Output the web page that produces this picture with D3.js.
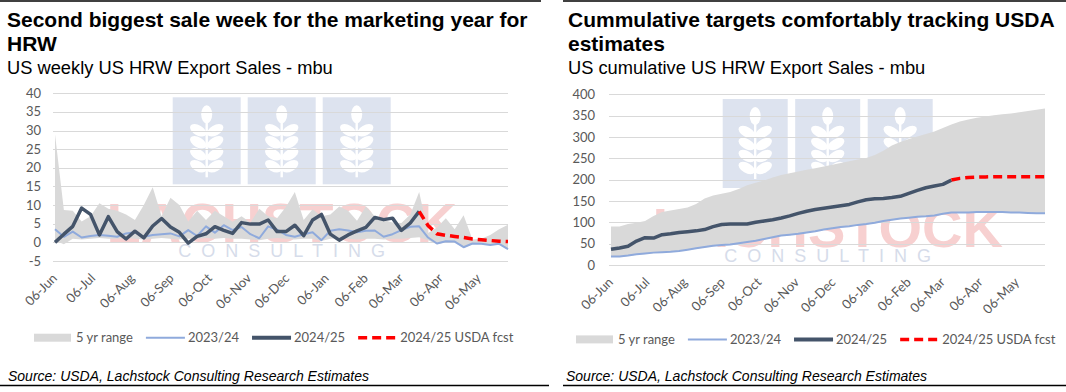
<!DOCTYPE html>
<html>
<head>
<meta charset="utf-8">
<title>HRW export sales</title>
<script src="https://cdn.jsdelivr.net/npm/d3@7"></script>
<style>
  body { margin: 0; background: #fff; }
  svg { display: block; }
  .title { font-family: "Liberation Sans", Arial, sans-serif; font-weight: bold; font-size: 21px; fill: #000; }
  .subtitle { font-family: "Liberation Sans", Arial, sans-serif; font-size: 18.3px; fill: #000; }
  .tick { font-family: Lato, "Open Sans", sans-serif; font-size: 13px; fill: #595959; }
  .legend { font-family: Lato, "Open Sans", sans-serif; font-size: 13px; fill: #595959; }
  .source { font-family: "Liberation Sans", Arial, sans-serif; font-style: italic; font-size: 14px; fill: #000; }
</style>
</head>
<body>
<svg id="chart" width="1066" height="392"></svg>
<script>
// one value per week, first week is 06-Jun-2024
const firstWeek = "2024-06-06";
const monthLabels = ["06-Jun", "06-Jul", "06-Aug", "06-Sep", "06-Oct", "06-Nov",
                     "06-Dec", "06-Jan", "06-Feb", "06-Mar", "06-Apr", "06-May"];
const legendLabels = ["5 yr range", "2023/24", "2024/25", "2024/25 USDA fcst"];

// weekly export sales, mbu
const weeklyTicks = [-5, 0, 5, 10, 15, 20, 25, 30, 35, 40];
const weeklyHigh = [29.0, 8.7, 8.5, 5.6, 7.0, 10.5, 9.0, 8.5, 7.5, 6.0,
                    10.0, 14.8, 7.0, 12.0, 10.0, 5.6, 8.5, 6.0, 8.5, 7.0,
                    5.5, 7.0, 5.3, 9.0, 7.0, 6.5, 9.5, 13.5, 6.0, 8.9,
                    7.0, 7.5, 9.6, 8.5, 5.8, 9.6, 7.0, 6.0, 5.3, 5.2,
                    7.5, 13.5, 2.5, 4.0, 6.5, 3.5, 7.3, 0.8, 1.0, 2.0,
                    3.5, 4.7];
const weeklyLow = [0.5, -0.5, 1.0, 0.8, 1.0, 1.2, 1.0, 1.0, 1.2, 1.0,
                   0.8, 1.0, 1.2, 1.0, 0.8, 1.0, 1.0, 1.2, 1.0, 1.2,
                   1.0, 1.0, 0.8, 0.6, 1.0, 1.2, 1.0, 0.8, 1.0, 1.0,
                   0.4, 1.0, 1.2, 1.0, 0.8, 1.0, 1.0, 0.8, 1.0, 1.0,
                   1.2, 1.4, 0.6, -0.5, 0.0, 0.0, -1.5, -0.5, -0.5, -0.8,
                   -0.6, -2.0];
const weekly2324 = [3.5, 1.5, 2.9, 1.3, 1.7, 2.0, 1.8, 1.5, 2.4, 2.7,
                    1.5, 2.0, 2.2, 2.4, 1.6, 3.3, 1.7, 4.3, 2.6, 4.6,
                    3.3, 4.1, 2.2, 1.1, 4.3, 3.4, 2.0, 1.5, 2.2, 2.7,
                    0.6, 3.1, 3.5, 3.2, 2.7, 3.1, 3.2, 1.5, 2.2, 3.3,
                    4.2, 4.3, 1.3, -0.3, 0.3, 0.2, -1.3, -0.3, -0.4, -0.7,
                    -0.4, -1.8];
const weekly2425 = [0.0, 2.2, 4.3, 9.2, 7.5, 2.0, 6.9, 2.9, 0.9, 3.0,
                    1.2, 4.4, 6.4, 4.1, 2.7, -0.2, 1.6, 2.3, 4.2, 3.2,
                    2.4, 5.3, 4.9, 4.9, 6.0, 2.9, 2.9, 4.6, 1.8, 6.0,
                    7.5, 2.2, 0.6, 2.0, 3.1, 4.0, 6.7, 6.1, 6.5, 3.2,
                    5.2, 8.3];
const weeklyFcstStart = 41;
const weeklyFcst = [8.3, 4.5, 2.3, 1.9, 1.6, 1.3, 0.9, 0.7, 0.5, 0.3, 0.2];

// cumulative export sales, mbu
const cumTicks = [0, 50, 100, 150, 200, 250, 300, 350, 400];
const cumHigh = [90, 90, 96, 99, 103, 115, 124, 128, 131, 135,
                 143, 156, 163, 167, 171, 178, 187, 193, 198, 205,
                 211, 215, 219, 223, 227, 231, 235, 239, 243, 247,
                 251, 258, 268, 280, 288, 295, 301, 307, 313, 321,
                 329, 336, 341, 345, 348, 351, 353, 355, 358, 361,
                 364, 367];
const cumLow = [19, 19, 21, 24, 26, 28, 29, 30, 32, 35,
                38, 41, 44, 46, 47, 50, 53, 56, 60, 64,
                68, 70, 72, 75, 78, 82, 85, 88, 90, 93,
                95, 98, 102, 105, 108, 110, 112, 113, 115, 119,
                122, 122, 122, 123, 123, 123, 123, 122, 122, 121,
                120, 120];
const cum2324 = [20, 20, 22, 25, 27, 29, 30, 31, 33, 36,
                 39, 42, 45, 47, 48, 51, 54, 57, 61, 65,
                 69, 71, 73, 76, 79, 83, 86, 89, 91, 94,
                 96, 99, 103, 106, 109, 111, 113, 114, 116, 120,
                 123, 123, 123, 124, 124, 124, 124, 123, 123, 122,
                 121, 121];
const cum2425 = [37, 40, 44, 56, 64, 63, 71, 73, 76, 78,
                 80, 83, 90, 95, 96, 96, 96, 100, 103, 106,
                 110, 115, 121, 126, 130, 133, 136, 139, 142, 148,
                 153, 155, 156, 158, 161, 168, 175, 181, 185, 189,
                 199];
const cumFcstStart = 40;
const cumFcst = [199, 203, 205, 206, 206.5, 207, 207, 207, 207, 207, 207, 207];

const colors = { range: "#d9d9d9", prev: "#8faadc", curr: "#44546a", fcst: "#ff0000", grid: "#d9d9d9" };

const svg = d3.select("#chart");
const startDate = d3.timeParse("%Y-%m-%d")(firstWeek);

function weekDate(i) {
  return d3.timeDay.offset(startDate, 7 * i);
}

// white wheat ear for the watermark tiles
function drawWheat(g, cx, top) {
  let ic = g.append("g").attr("fill", "#fff");
  ic.append("ellipse").attr("cx", cx).attr("cy", top + 17).attr("rx", 5.5).attr("ry", 9);
  [33, 45, 57, 69].forEach(function(dy) {
    [-1, 1].forEach(function(side) {
      let ex = cx + side * 8.5;
      let ey = top + dy;
      ic.append("ellipse")
        .attr("cx", ex).attr("cy", ey)
        .attr("rx", 9).attr("ry", 5)
        .attr("transform", "rotate(" + (-side * 30) + "," + ex + "," + ey + ")");
    });
  });
  ic.append("rect").attr("x", cx - 1.2).attr("y", top + 24).attr("width", 2.4).attr("height", 56);
}

function drawWatermark(g, wm) {
  let total = 3 * wm.w + 2 * wm.gap;
  for (let k = 0; k < 3; k++) {
    let sx = wm.cx - total / 2 + k * (wm.w + wm.gap);
    g.append("rect")
      .attr("x", sx).attr("y", wm.top)
      .attr("width", wm.w).attr("height", wm.h)
      .attr("fill", "#dde3ef");
    drawWheat(g, sx + wm.w / 2, wm.top);
  }
  g.append("text")
    .attr("x", wm.cx).attr("y", wm.redY)
    .attr("text-anchor", "middle")
    .style("font-family", "'Liberation Sans', Arial, sans-serif")
    .style("font-weight", "bold")
    .style("font-size", "56px")
    .attr("fill", "#f7d0d0")
    .text("LACHSTOCK");
  g.append("text")
    .attr("x", wm.cx + 5).attr("y", wm.consY)
    .attr("text-anchor", "middle")
    .style("font-family", "'Liberation Sans', Arial, sans-serif")
    .style("font-size", "18px")
    .style("letter-spacing", "10px")
    .attr("fill", "#d6dcea")
    .text("CONSULTING");
}

function drawLegend(g, x0, y0) {
  let cx = x0;
  legendLabels.forEach(function(label, i) {
    if (i === 0) {
      g.append("rect").attr("x", cx).attr("y", y0 - 4).attr("width", 37).attr("height", 8)
        .attr("fill", colors.range);
    } else {
      let ln = g.append("line").attr("x1", cx).attr("x2", cx + 39).attr("y1", y0).attr("y2", y0);
      if (i === 1) ln.attr("stroke", colors.prev).attr("stroke-width", 2);
      if (i === 2) ln.attr("stroke", colors.curr).attr("stroke-width", 4);
      if (i === 3) ln.attr("stroke", colors.fcst).attr("stroke-width", 3.5).attr("stroke-dasharray", "9,5");
    }
    let t = g.append("text").attr("class", "legend")
      .attr("x", cx + 42).attr("y", y0 + 4.5)
      .text(label);
    cx = cx + 42 + t.node().getComputedTextLength() + 13;
  });
}

function drawPanel(p) {
  let g = svg.append("g");

  let x = d3.scaleTime()
    .domain([weekDate(0), weekDate(p.high.length - 1)])
    .range([p.left, p.right]);
  let y = d3.scaleLinear()
    .domain([p.ticks[0], p.ticks[p.ticks.length - 1]])
    .range([p.bottom, p.top]);

  // titles
  p.titles.forEach(function(t, i) {
    g.append("text").attr("class", "title").attr("x", p.titleX).attr("y", 27 + i * 24).text(t);
  });
  g.append("text").attr("class", "subtitle").attr("x", p.titleX).attr("y", 74).text(p.subtitle);

  drawWatermark(g.append("g"), p.wm);

  // gridlines + y labels
  g.selectAll(".grid").data(p.ticks).enter()
    .append("line")
    .attr("class", "grid")
    .attr("x1", p.gridLeft).attr("x2", p.right)
    .attr("y1", function(d) { return Math.round(y(d)) + 0.5; })
    .attr("y2", function(d) { return Math.round(y(d)) + 0.5; })
    .attr("stroke", colors.grid)
    .attr("stroke-width", 1);

  g.selectAll(".ylab").data(p.ticks).enter()
    .append("text")
    .attr("class", "tick")
    .attr("x", p.labelX)
    .attr("y", function(d) { return y(d); })
    .attr("dy", "0.35em")
    .attr("text-anchor", "end")
    .text(function(d) { return d; });

  // month labels
  g.selectAll(".xlab").data(monthLabels).enter()
    .append("text")
    .attr("class", "tick")
    .attr("text-anchor", "end")
    .attr("transform", function(d, k) {
      let tx = x(d3.timeMonth.offset(startDate, k)) + 3;
      return "translate(" + tx + "," + (p.bottom + 18) + ") rotate(-45)";
    })
    .text(function(d) { return d; });

  // 5 yr range
  let rangeData = p.high.map(function(h, i) { return { date: weekDate(i), hi: h, lo: p.low[i] }; });
  g.append("path")
    .datum(rangeData)
    .attr("fill", colors.range)
    .attr("d", d3.area()
      .x(function(d) { return x(d.date); })
      .y0(function(d) { return y(d.lo); })
      .y1(function(d) { return y(d.hi); }));

  let line = d3.line()
    .x(function(d) { return x(d.date); })
    .y(function(d) { return y(d.v); });

  function series(vals, offset) {
    return vals.map(function(v, i) { return { date: weekDate(i + offset), v: v }; });
  }

  g.append("path").datum(series(p.prev, 0))
    .attr("fill", "none").attr("stroke", colors.prev).attr("stroke-width", 2)
    .attr("stroke-linejoin", "round").attr("d", line);

  g.append("path").datum(series(p.curr, 0))
    .attr("fill", "none").attr("stroke", colors.curr).attr("stroke-width", 3.5)
    .attr("stroke-linejoin", "round").attr("d", line);

  g.append("path").datum(series(p.fcst, p.fcstStart))
    .attr("fill", "none").attr("stroke", colors.fcst).attr("stroke-width", 3.5)
    .attr("stroke-dasharray", "9,5").attr("d", line);

  drawLegend(g, p.legendX, p.legendY);

  g.append("text").attr("class", "source").attr("x", p.sourceX).attr("y", 381)
    .text("Source: USDA, Lachstock Consulting Research Estimates");

  g.append("line").attr("x1", p.ruleTop[0]).attr("x2", p.ruleTop[1]).attr("y1", 1).attr("y2", 1)
    .attr("stroke", "#000").attr("stroke-width", 1.5);
  g.append("line").attr("x1", p.ruleBottom[0]).attr("x2", p.ruleBottom[1]).attr("y1", 385.5).attr("y2", 385.5)
    .attr("stroke", "#000").attr("stroke-width", 1.5);
}

drawPanel({
  titles: ["Second biggest sale week for the marketing year for", "HRW"],
  subtitle: "US weekly US HRW Export Sales - mbu",
  titleX: 7,
  left: 55, right: 508, gridLeft: 53, top: 93.3, bottom: 261, labelX: 41,
  ticks: weeklyTicks,
  high: weeklyHigh, low: weeklyLow, prev: weekly2324, curr: weekly2425,
  fcst: weeklyFcst, fcstStart: weeklyFcstStart,
  wm: { cx: 281.7, top: 97.3, w: 68, h: 87, gap: 7, redY: 242, consY: 257 },
  legendX: 34, legendY: 337.7, sourceX: 8,
  ruleTop: [0, 541], ruleBottom: [0, 549]
});

drawPanel({
  titles: ["Cummulative targets comfortably tracking USDA", "estimates"],
  subtitle: "US cumulative US HRW Export Sales - mbu",
  titleX: 568,
  left: 611, right: 1045, gridLeft: 609, top: 94.3, bottom: 265, labelX: 595,
  ticks: cumTicks,
  high: cumHigh, low: cumLow, prev: cum2324, curr: cum2425,
  fcst: cumFcst, fcstStart: cumFcstStart,
  wm: { cx: 827.7, top: 99, w: 65, h: 89, gap: 7.5, redY: 247, consY: 262 },
  legendX: 576, legendY: 339.4, sourceX: 566,
  ruleTop: [563, 1066], ruleBottom: [563, 1066]
});
</script>
</body>
</html>
